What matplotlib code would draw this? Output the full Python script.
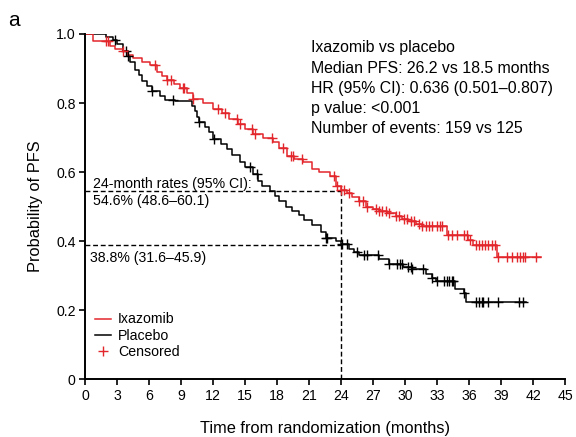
import numpy as np
import matplotlib
matplotlib.use('Agg')
import matplotlib.pyplot as plt
from matplotlib.lines import Line2D

plt.rcParams['font.family'] = ['Liberation Sans', 'DejaVu Sans']

# Ixazomib: step times (months) and survival after each step
ixa_t = [0, 0.75, 2.3, 2.8, 3.5, 4.0, 4.5, 5.3, 6.1, 6.7, 7.2, 7.7, 8.3, 8.9, 9.5,
         10.1, 11.0, 12.0, 12.8, 13.5, 14.3, 15.0, 15.7, 16.7, 17.6, 18.2, 18.9,
         19.6, 20.4, 21.3, 21.9, 22.9, 23.5, 24.0, 24.5, 25.0, 25.7, 26.3, 27.0,
         27.5, 28.3, 29.1, 29.7, 30.3, 31.0, 31.6, 33.9, 35.9, 36.4, 38.6, 42.7]
ixa_s = [1.0, 0.98, 0.965, 0.957, 0.95, 0.94, 0.93, 0.92, 0.91, 0.89, 0.878, 0.866,
         0.855, 0.843, 0.828, 0.813, 0.80, 0.784, 0.77, 0.755, 0.74, 0.725, 0.711,
         0.70, 0.688, 0.67, 0.647, 0.638, 0.63, 0.609, 0.60, 0.589, 0.56, 0.548,
         0.538, 0.528, 0.515, 0.50, 0.493, 0.487, 0.48, 0.472, 0.465, 0.458, 0.45,
         0.443, 0.417, 0.402, 0.388, 0.353, 0.353]
ixa_cens = [1.9, 2.1, 3.5, 6.5, 7.7, 8.0, 9.2, 9.3, 10.1, 12.4, 13.1, 14.2, 14.5,
            15.6, 15.9, 17.5, 18.5, 19.3, 19.5, 20.3, 23.3, 23.6, 24.0, 24.3, 24.7,
            25.7, 26.0, 26.4, 27.3, 27.5, 27.8, 28.2, 28.5, 29.1, 29.4, 29.9, 30.2,
            30.5, 30.8, 31.3, 31.6, 31.9, 32.2, 32.5, 33.0, 33.3, 33.4, 34.0, 34.4,
            34.9, 35.5, 35.8, 36.1, 36.6, 36.9, 37.2, 37.5, 37.8, 38.1, 38.4, 38.7,
            39.5, 40.0, 40.5, 40.8, 41.0, 41.2, 42.3]

# Placebo
pla_t = [0, 1.9, 2.6, 3.0, 3.5, 4.0, 4.2, 4.7, 5.0, 5.3, 5.8, 6.3, 7.0, 7.5, 8.4,
         10.0, 10.3, 10.5, 10.7, 11.2, 11.6, 12.0, 12.7, 13.3, 13.8, 14.5, 15.0,
         15.7, 16.2, 16.6, 17.3, 17.8, 18.2, 18.8, 19.4, 20.0, 20.5, 21.3, 22.1,
         22.6, 23.5, 24.0, 24.7, 25.2, 25.7, 27.5, 28.5, 29.8, 30.6, 31.9, 32.5,
         32.9, 34.7, 35.5, 35.7, 41.3]
pla_s = [1.0, 0.99, 0.983, 0.97, 0.95, 0.935, 0.92, 0.895, 0.88, 0.863, 0.85, 0.834,
         0.82, 0.81, 0.805, 0.79, 0.776, 0.76, 0.746, 0.73, 0.715, 0.697, 0.682,
         0.668, 0.65, 0.63, 0.615, 0.595, 0.575, 0.56, 0.545, 0.53, 0.516, 0.50,
         0.487, 0.475, 0.462, 0.445, 0.425, 0.408, 0.40, 0.39, 0.376, 0.368, 0.359,
         0.347, 0.332, 0.325, 0.318, 0.303, 0.293, 0.283, 0.26, 0.25, 0.224, 0.224]
pla_cens = [2.8, 3.8, 4.0, 6.3, 8.2, 10.7, 12.1, 15.4, 16.1, 22.6, 22.7, 24.1, 24.5,
            25.5, 26.1, 26.4, 27.4, 28.5, 29.2, 29.5, 29.7, 30.3, 30.5, 30.6, 31.7,
            32.5, 33.0, 33.6, 33.9, 34.1, 34.4, 34.5, 35.5, 36.6, 36.9, 37.2, 37.3,
            37.8, 38.7, 40.7, 41.0]

rate_ixa = 0.546
rate_pla = 0.388
landmark = 24

info_lines = ['Ixazomib vs placebo',
              'Median PFS: 26.2 vs 18.5 months',
              'HR (95% CI): 0.636 (0.501\u20130.807)',
              'p value: <0.001',
              'Number of events: 159 vs 125']

xticks = list(range(0, 46, 3))
yticks = [0, 0.2, 0.4, 0.6, 0.8, 1.0]
ylabels = ['0', '0.2', '0.4', '0.6', '0.8', '1.0']

red = '#e3262b'
fs = 10.2


def at(times, steps, vals):
    idx = np.searchsorted(steps, times, side='right') - 1
    return np.array(vals)[idx]


fig = plt.figure(figsize=(5.76, 4.37), dpi=100)
ax = fig.add_axes([0.148, 0.1327, 0.8333, 0.7895])

# landmark lines
ax.plot([0, landmark], [rate_ixa, rate_ixa], color='k', ls=(0, (3.5, 2)), lw=1.0)
ax.plot([0, landmark], [rate_pla, rate_pla], color='k', ls=(0, (3.5, 2)), lw=1.0)
ax.plot([landmark, landmark], [0, rate_ixa], color='k', ls=(0, (3.5, 2)), lw=1.0)

ax.step(pla_t, pla_s, where='post', color='k', lw=1.1)
ax.step(ixa_t, ixa_s, where='post', color=red, lw=1.1)
ax.plot(pla_cens, at(pla_cens, pla_t, pla_s), ls='none', marker='+', ms=6.5,
        mew=1.0, color='k')
ax.plot(ixa_cens, at(ixa_cens, ixa_t, ixa_s), ls='none', marker='+', ms=6.5,
        mew=1.0, color=red)

ax.set_xlim(0, 45)
ax.set_ylim(0, 1.0)
ax.set_xticks(xticks)
ax.set_yticks(yticks)
ax.set_yticklabels(ylabels)
ax.tick_params(labelsize=fs, width=1.2, length=4, pad=3)
for s in ['top', 'right']:
    ax.spines[s].set_visible(False)
for s in ['left', 'bottom']:
    ax.spines[s].set_linewidth(1.4)
ax.set_xlabel('Time from randomization (months)', fontsize=11.8, labelpad=13)
ax.set_ylabel('Probability of PFS', fontsize=11.8, labelpad=9)

# info text
info_y = [0.962, 0.901, 0.841, 0.783, 0.725]
for txt, yy in zip(info_lines, info_y):
    ax.text(21.15, yy, txt, fontsize=11.4, va='center', ha='left')

ax.text(0.73, 0.565, '24-month rates (95% CI):', fontsize=fs, va='center')
ax.text(0.73, 0.516, '54.6% (48.6\u201360.1)', fontsize=fs, va='center')
ax.text(0.45, 0.351, '38.8% (31.6\u201345.9)', fontsize=fs, va='center')

handles = [Line2D([], [], color=red, lw=1.1),
           Line2D([], [], color='k', lw=1.1),
           Line2D([], [], color=red, ls='none', marker='+', ms=7, mew=1.0)]
ax.legend(handles, ['Ixazomib', 'Placebo', 'Censored'], loc='lower left',
          bbox_to_anchor=(0.0, 0.03), frameon=False, fontsize=fs,
          handlelength=1.1, handletextpad=0.5, labelspacing=0.15, borderaxespad=0.3)

fig.text(0.014, 0.953, 'a', fontsize=15, va='center')

fig.savefig('out.png', dpi=100)
